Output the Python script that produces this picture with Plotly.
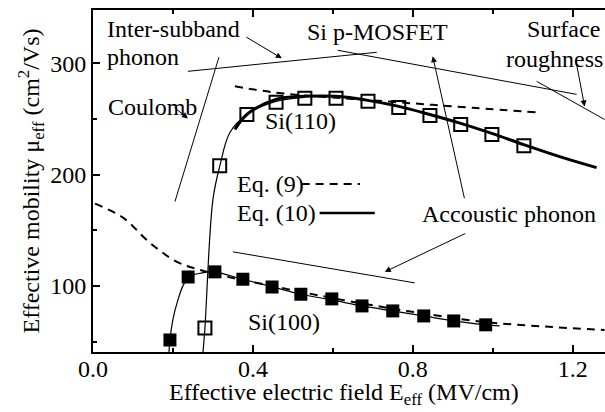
import plotly.graph_objects as go

# ---------------- data ----------------
# Si(110) measured (open squares)
e110 = [0.28, 0.317, 0.385, 0.458, 0.53, 0.608, 0.688, 0.765, 0.843, 0.92, 0.998, 1.078]
mu110 = [62.2, 208, 254, 265, 268.5, 268.5, 265.8, 260.4, 253.2, 245, 236, 226]

# Si(100) measured (filled squares)
e100 = [0.1925, 0.238, 0.305, 0.375, 0.448, 0.52, 0.5975, 0.673, 0.75, 0.8275, 0.9025, 0.9825]
mu100 = [51.4, 108, 112.6, 106, 99, 92.5, 88.3, 82, 77.5, 73, 68.5, 65]

# Eq. (9) (dashed)
eq9_e110 = [0.355, 0.45, 0.55, 0.65, 0.8, 0.95, 1.1125]
eq9_mu110 = [279.3, 274, 270.5, 268, 264, 260, 255.9]
eq9_e100 = [0.005, 0.075, 0.1425, 0.21, 0.2675, 0.3375, 0.45, 0.6, 0.75, 0.83, 0.98, 1.13, 1.28]
eq9_mu100 = [173.9, 161.3, 138.7, 121.6, 114.4, 108.1, 99.8, 89, 79.5, 75, 67.5, 63.5, 60.3]

# Eq. (10) (thick solid) Si(110)
eq10_e110 = [0.355, 0.385, 0.4575, 0.53, 0.6075, 0.6875, 0.765, 0.8425, 0.92, 0.9975, 1.0775, 1.1675, 1.26]
eq10_mu110 = [240.5, 254, 267.6, 270.3, 270.3, 266.7, 261.3, 254, 246, 237, 227, 216.2, 206.3]

# thin fit lines
thin_e110 = [0.275, 0.28, 0.30, 0.3175, 0.3425, 0.385, 0.4575, 0.53]
thin_mu110 = [39.5, 62, 177.5, 208, 237.8, 254, 265.8, 269.4]
thin_e100 = [0.19, 0.1925, 0.2, 0.2125, 0.225, 0.24, 0.27, 0.305, 0.375, 0.448, 0.52,
             0.5975, 0.673, 0.75, 0.8275, 0.9025, 0.98, 1.0175]
thin_mu100 = [40, 51.4, 70, 87.4, 100, 108, 111.5, 112.4, 106, 99.2, 92.5,
              87.4, 82, 77.5, 73, 68.5, 65, 64]

# scattering-mechanism guide lines
intersub_e = [0.2375, 0.71]
intersub_mu = [292.8, 309.9]
coulomb_e = [0.205, 0.315]
coulomb_mu = [175.7, 305.4]
phonon_e = [0.6125, 1.21]
phonon_mu = [311.7, 272.1]
rough_e = [1.11, 1.28]
rough_mu = [283.8, 249.5]
acou100_e = [0.35, 0.805]
acou100_mu = [130.6, 102.7]

# legend samples
leg9_e = [0.522, 0.668]
leg9_mu = [191.5, 191.5]
leg10_e = [0.567, 0.705]
leg10_mu = [165.4, 165.4]

FONT = "Liberation Serif, Times New Roman, serif"
FS = 24

fig = go.Figure()

def line(x, y, width=1, dash=None, shape="linear"):
    fig.add_trace(go.Scatter(x=x, y=y, mode="lines",
                             line=dict(color="black", width=width, dash=dash, shape=shape),
                             showlegend=False, hoverinfo="skip"))

for xs, ys in [(intersub_e, intersub_mu), (coulomb_e, coulomb_mu), (phonon_e, phonon_mu),
               (rough_e, rough_mu), (acou100_e, acou100_mu)]:
    line(xs, ys, 1)

line(thin_e110, thin_mu110, 1.2, shape="spline")
line(thin_e100, thin_mu100, 1.2, shape="spline")
line(eq9_e110, eq9_mu110, 2, dash="8px,6px", shape="spline")
line(eq9_e100, eq9_mu100, 2, dash="8px,6px", shape="spline")
line(eq10_e110, eq10_mu110, 3, shape="spline")
line(leg9_e, leg9_mu, 2, dash="8px,6px")
line(leg10_e, leg10_mu, 2.5)

fig.add_trace(go.Scatter(x=e110, y=mu110, mode="markers",
                         marker=dict(symbol="square-open", size=13, color="black",
                                     line=dict(width=2, color="black")),
                         showlegend=False))
fig.add_trace(go.Scatter(x=e100, y=mu100, mode="markers",
                         marker=dict(symbol="square", size=13, color="black"),
                         showlegend=False))

# text labels
texts = [
    ("Inter-subband", 0.03, 330.6, "left"),
    ("phonon", 0.03, 305.4, "left"),
    ("Si p-MOSFET", 0.711, 327.9, "center"),
    ("Surface", 1.2725, 330.6, "right"),
    ("roughness", 1.28, 303.6, "right"),
    ("Coulomb", 0.0325, 260.4, "left"),
    ("Si(110)", 0.425, 248.6, "left"),
    ("Eq. (9)", 0.355, 191.5, "left"),
    ("Eq. (10)", 0.355, 165.4, "left"),
    ("Accoustic phonon", 0.8175, 164.9, "left"),
    ("Si(100)", 0.3825, 67.6, "left"),
]
for t, x, y, anc in texts:
    fig.add_annotation(x=x, y=y, text=t, showarrow=False, xanchor=anc, yanchor="middle",
                       font=dict(family=FONT, size=FS, color="black"))

# x-axis title placed as annotation for exact vertical position
fig.add_annotation(x=0.49, y=-0.123, xref="paper", yref="paper", showarrow=False,
                   xanchor="center", yanchor="middle",
                   text="Effective electric field E<sub>eff</sub> (MV/cm)",
                   font=dict(family=FONT, size=FS, color="black"))

# arrows: (tail_e, tail_mu, head_e, head_mu)
arrows = [
    (0.38, 324.3, 0.4725, 304.5),
    (0.20, 261.3, 0.2375, 250.5),
    (1.2075, 303.6, 1.23, 261.3),
    (0.93, 177.5, 0.85, 306.3),
    (0.935, 147.7, 0.73, 112.6),
]
for ax_, ay_, hx, hy in arrows:
    fig.add_annotation(x=hx, y=hy, ax=ax_, ay=ay_, axref="x", ayref="y", xref="x", yref="y",
                       text="", showarrow=True, arrowhead=2, arrowsize=1.2, arrowwidth=1,
                       arrowcolor="black")

fig.update_layout(
    width=605, height=412,
    margin=dict(l=93, r=0, t=10, b=60),
    paper_bgcolor="white", plot_bgcolor="white",
    font=dict(family=FONT, size=FS, color="black"),
    xaxis=dict(range=[0, 1.281], tick0=0, dtick=0.4, tickformat=".1f",
               ticks="inside", ticklen=7, tickwidth=1.5, tickcolor="black",
               ticklabelstandoff=-6,
               showline=True, linewidth=2, linecolor="black", mirror="allticks",
               showgrid=False, zeroline=False,
               minor=dict(dtick=0.2, ticks="inside", ticklen=4, tickwidth=1.5, tickcolor="black",
                          showgrid=False)),
    yaxis=dict(range=[40.6, 347.9], tick0=0, dtick=100,
               ticks="inside", ticklen=7, tickwidth=1.5, tickcolor="black",
               showline=True, linewidth=2, linecolor="black", mirror=False,
               showgrid=False, zeroline=False,
               minor=dict(dtick=50, ticks="inside", ticklen=4, tickwidth=1.5, tickcolor="black",
                          showgrid=False),
               title=dict(text="Effective mobility \u03bc<sub>eff</sub> (cm<sup>2</sup>/Vs)",
                          font=dict(family=FONT, size=FS), standoff=4)),
)

fig.write_html("out.html")
